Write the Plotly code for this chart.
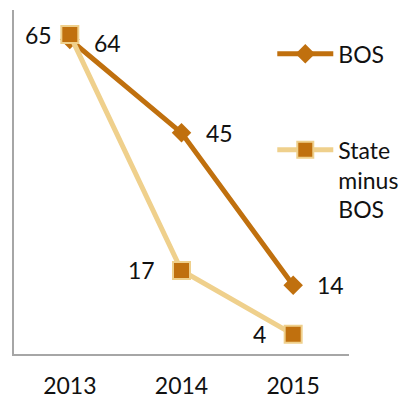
import plotly.graph_objects as go

years = ["2013", "2014", "2015"]
bos = [64, 45, 14]
state_minus_bos = [65, 17, 4]

DARK = "#C0700E"
LIGHT = "#EFD08C"
FONT = "Lato"
FS = 23

fig = go.Figure()
fig.add_trace(go.Scatter(
    x=years, y=bos, name="BOS", mode="lines+markers",
    line=dict(color=DARK, width=5),
    marker=dict(symbol="diamond", size=15, color=DARK),
    legendgroup="a",
))
fig.add_trace(go.Scatter(
    x=years, y=state_minus_bos, name="State<br>minus<br>BOS", mode="lines+markers",
    line=dict(color=LIGHT, width=5),
    marker=dict(symbol="square", size=17, color=DARK, line=dict(color=LIGHT, width=2)),
    legendgroup="b",
))

# data labels (x given as category index)
for i, v in enumerate(bos):
    fig.add_annotation(x=i, y=v, text=str(v), showarrow=False, xanchor="left",
                       xshift=22, yshift=-4 if i == 0 else 0,
                       font=dict(family=FONT, size=FS, color="#111"))
for i, v in enumerate(state_minus_bos):
    fig.add_annotation(x=i, y=v, text=str(v), showarrow=False, xanchor="right",
                       xshift=-16 if i == 0 else -25,
                       font=dict(family=FONT, size=FS, color="#111"))

fig.update_layout(
    width=401, height=392, autosize=False,
    margin=dict(l=6, r=60, t=2, b=46, autoexpand=False),
    paper_bgcolor="white", plot_bgcolor="white",
    font=dict(family=FONT, size=FS, color="#111"),
    showlegend=True,
    legend=dict(
        x=0.771, y=0.935, xanchor="left", yanchor="top",
        valign="top", itemwidth=56, tracegroupgap=63,
        traceorder="grouped",
        bgcolor="rgba(0,0,0,0)",
        font=dict(family=FONT, size=FS, color="#111"),
    ),
    xaxis=dict(
        type="category", range=[-0.5, 2.5], showline=True, linecolor="#A6A6A6", linewidth=1.5,
        showgrid=False, zeroline=False, ticks="outside", ticklen=11, tickcolor="rgba(0,0,0,0)",
        tickfont=dict(family=FONT, size=FS, color="#111"), fixedrange=True, automargin=False,
    ),
    yaxis=dict(
        range=[0, 70], showline=True, linecolor="#A6A6A6", linewidth=1.5,
        showgrid=False, zeroline=False, showticklabels=False, ticks="", fixedrange=True,
        automargin=False,
    ),
)

fig.write_html("out.html")
